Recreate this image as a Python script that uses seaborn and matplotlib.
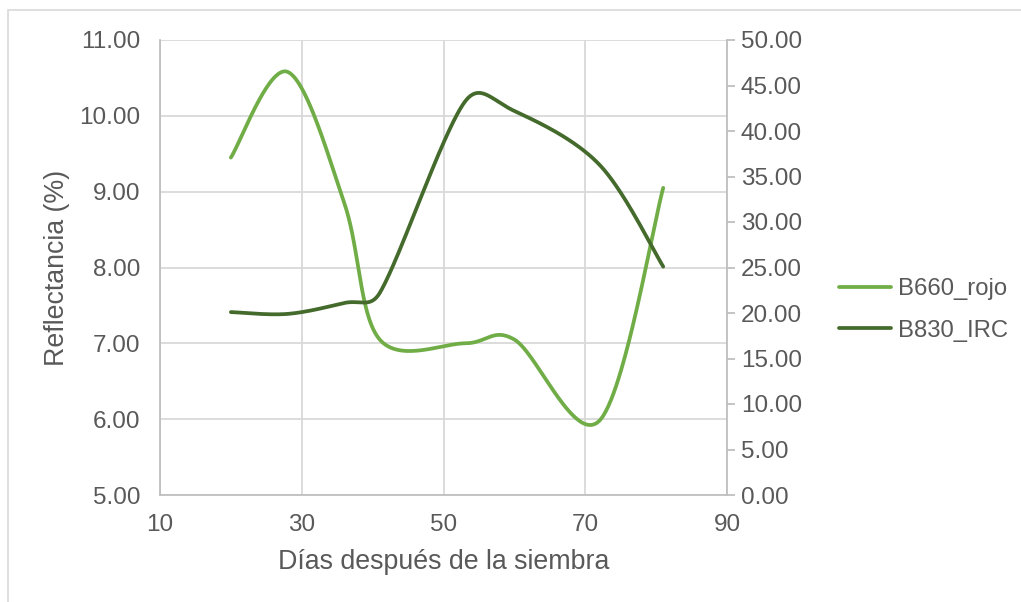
import numpy as np
import pandas as pd
import matplotlib
matplotlib.use("Agg")
import matplotlib.pyplot as plt
from matplotlib.patches import Rectangle
import seaborn as sns

# Measurement days and reflectance per band
dias = [20, 28, 36, 41, 53, 60, 72, 81]
b660_rojo = [9.45, 10.58, 8.85, 7.05, 7.00, 7.05, 5.98, 9.05]
b830_irc = [20.10, 19.90, 21.10, 22.20, 43.20, 42.20, 36.30, 25.10]

x_ticks = [10, 30, 50, 70, 90]
y_left_ticks = [5, 6, 7, 8, 9, 10, 11]
y_right_ticks = [0, 5, 10, 15, 20, 25, 30, 35, 40, 45, 50]

VERDE_CLARO = "#70AD47"
VERDE_OSCURO = "#446A2C"
GRIS_TEXTO = "#595959"
GRIS_LINEA = "#D9D9D9"
GRIS_EJE = "#BFBFBF"

W, H = 1021, 602
AX_BOX = (160, 40, 727, 495)  # left, top, right, bottom in pixels


def suavizar(xs, ys, xlim, ylim, pasos=60, limite=0.5):
    """Smoothed line through the points: cubic Bezier segments with
    Catmull-Rom control points (tension 1/6), whose arms are capped at a
    fraction of the segment length in screen space to avoid loops."""
    sx = (AX_BOX[2] - AX_BOX[0]) / (xlim[1] - xlim[0])
    sy = (AX_BOX[3] - AX_BOX[1]) / (ylim[1] - ylim[0])
    p = np.column_stack([(np.asarray(xs, float) - xlim[0]) * sx,
                         (np.asarray(ys, float) - ylim[0]) * sy])
    n = len(p)
    out = []
    t = np.linspace(0, 1, pasos)[:, None]
    for i in range(n - 1):
        p0 = p[i - 1] if i > 0 else p[i]
        p1 = p[i]
        p2 = p[i + 1]
        p3 = p[i + 2] if i + 2 < n else p[i + 1]
        seg_len = np.hypot(*(p2 - p1))
        a1 = (p2 - p0) / 6.0
        a2 = (p3 - p1) / 6.0
        for a in (a1, a2):
            la = np.hypot(*a)
            if la > limite * seg_len and la > 0:
                a *= limite * seg_len / la
        c1 = p1 + a1
        c2 = p2 - a2
        seg = ((1 - t) ** 3) * p1 + 3 * ((1 - t) ** 2) * t * c1 \
            + 3 * (1 - t) * t ** 2 * c2 + t ** 3 * p2
        out.append(seg if i == 0 else seg[1:])
    arr = np.vstack(out)
    return arr[:, 0] / sx + xlim[0], arr[:, 1] / sy + ylim[0]


sns.set_theme(style="white")
plt.rcParams["font.family"] = ["Liberation Sans", "DejaVu Sans"]

fig = plt.figure(figsize=(W / 100, H / 100), dpi=100)
fig.patch.set_facecolor("white")

# chart-area frame
fig.patches.append(Rectangle((8 / W, -0.01), 1.2, 1 - 10 / H + 0.01,
                             transform=fig.transFigure, fill=False,
                             edgecolor=GRIS_LINEA, linewidth=1.2))

ax = fig.add_axes([AX_BOX[0] / W, 1 - AX_BOX[3] / H,
                   (AX_BOX[2] - AX_BOX[0]) / W, (AX_BOX[3] - AX_BOX[1]) / H])
ax2 = ax.twinx()

fs_tick = 17.5
fs_title = 19.3
fs_leg = 17.2

xlim, yl_left, yl_right = (10, 90), (5, 11), (0, 50)
xs1, ys1 = suavizar(dias, b660_rojo, xlim, yl_left)
xs2, ys2 = suavizar(dias, b830_irc, xlim, yl_right)
df1 = pd.DataFrame({"dia": xs1, "valor": ys1})
df2 = pd.DataFrame({"dia": xs2, "valor": ys2})

sns.lineplot(data=df1, x="dia", y="valor", ax=ax, sort=False,
             color=VERDE_CLARO, linewidth=2.7, label="B660_rojo", legend=False)
sns.lineplot(data=df2, x="dia", y="valor", ax=ax2, sort=False,
             color=VERDE_OSCURO, linewidth=2.7, label="B830_IRC", legend=False)

ax.set_xlim(*xlim)
ax.set_ylim(*yl_left)
ax2.set_ylim(*yl_right)
ax.set_xticks(x_ticks)
ax.set_yticks(y_left_ticks)
ax2.set_yticks(y_right_ticks)
ax.set_xticklabels([str(v) for v in x_ticks])
ax.set_yticklabels([f"{v:.2f}" for v in y_left_ticks])
ax2.set_yticklabels([f"{v:.2f}" for v in y_right_ticks])

ax.grid(True, color=GRIS_LINEA, linewidth=1.3)
ax2.grid(False)
ax.set_axisbelow(True)

for a in (ax, ax2):
    for s in a.spines.values():
        s.set_visible(False)
for a, lado in ((ax, "left"), (ax, "bottom"), (ax2, "right")):
    a.spines[lado].set_visible(True)
    a.spines[lado].set_color(GRIS_EJE)
    a.spines[lado].set_linewidth(1.3)

ax.tick_params(axis="both", length=0, labelsize=fs_tick, labelcolor=GRIS_TEXTO)
ax.tick_params(axis="y", pad=14)
ax.tick_params(axis="x", pad=14)
ax2.tick_params(axis="y", length=6, width=1.3, color=GRIS_EJE, direction="out",
                labelsize=fs_tick, labelcolor=GRIS_TEXTO, pad=4)

ax.set_xlabel("Días después de la siembra", fontsize=fs_title,
              color=GRIS_TEXTO, labelpad=9)
ax.set_ylabel("Reflectancia (%)", fontsize=fs_title, color=GRIS_TEXTO, labelpad=7)
ax2.set_ylabel("")

h1, l1 = ax.get_legend_handles_labels()
h2, l2 = ax2.get_legend_handles_labels()
fig.legend(h1 + h2, l1 + l2, loc="center left",
           bbox_to_anchor=(817 / W, 1 - 310 / H), frameon=False,
           fontsize=fs_leg, labelcolor=GRIS_TEXTO, handlelength=2.2,
           handletextpad=0.3, labelspacing=0.8)

fig.savefig("out.png", dpi=100, facecolor="white")
